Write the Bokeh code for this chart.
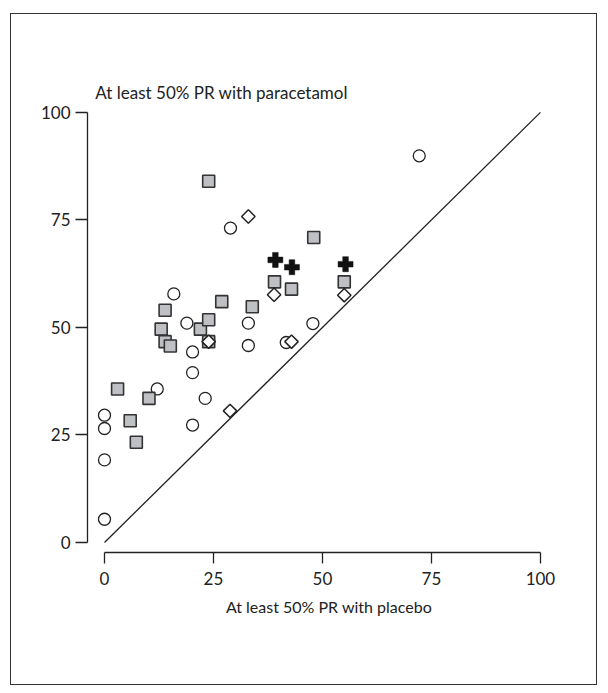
from bokeh.plotting import figure
from bokeh.layouts import column
from bokeh.models import Range1d, FixedTicker, Label
from bokeh.embed import file_html
from bokeh.resources import INLINE
import math

# --- data ---
circle_x = [0, 0, 0, 0, 12.1, 15.9, 18.9, 20.2, 20.2, 20.2, 23.1, 28.9, 33.0, 33.0, 41.7, 47.8, 72.2]
circle_y = [5.4, 19.2, 26.5, 29.6, 35.7, 57.8, 51.0, 27.3, 39.5, 44.3, 33.5, 73.1, 51.0, 45.8, 46.5, 50.9, 89.9]

square_x = [3.0, 5.9, 7.3, 10.2, 13.0, 13.9, 13.9, 15.1, 22.0, 23.9, 23.9, 23.9, 26.9, 33.9, 39.0, 42.9, 48.0, 55.0]
square_y = [35.7, 28.3, 23.3, 33.5, 49.6, 54.0, 46.7, 45.7, 49.6, 51.8, 46.7, 84.0, 56.0, 54.8, 60.6, 58.9, 70.9, 60.6]

diamond_x = [23.9, 28.8, 33.0, 38.9, 42.9, 55.0]
diamond_y = [46.7, 30.6, 75.8, 57.6, 46.7, 57.5]

plus_x = [39.2, 43.0, 55.3]
plus_y = [65.7, 64.0, 64.7]

line_x = [0, 100]
line_y = [0, 100]

tick_values = [0, 25, 50, 75, 100]
x_label = "At least 50% PR with placebo"
y_title = "At least 50% PR with paracetamol"

FONT = "Lato"
INK = "#222222"

p = figure(width=585, height=670, output_backend="svg", toolbar_location=None,
           x_range=Range1d(-3.9, 106.9), y_range=Range1d(-2.33, 112.3))
p.min_border_left = 76
p.min_border_right = 26
p.min_border_top = 45
p.min_border_bottom = 132
p.outline_line_color = None
p.background_fill_color = "white"
p.border_fill_color = "white"
p.xgrid.visible = False
p.ygrid.visible = False

for ax, out, stand in ((p.xaxis[0], 11, 8), (p.yaxis[0], 12, 5)):
    ax.ticker = FixedTicker(ticks=tick_values)
    ax.bounds = (0, 100)
    ax.axis_line_color = INK
    ax.axis_line_width = 1.3
    ax.major_tick_line_color = INK
    ax.major_tick_line_width = 1.3
    ax.major_tick_in = 0
    ax.major_tick_out = out
    ax.minor_tick_line_color = None
    ax.major_label_text_font = FONT
    ax.major_label_text_font_size = "17px"
    ax.major_label_text_color = INK
    ax.major_label_standoff = stand

p.xaxis[0].axis_label = x_label
p.xaxis[0].axis_label_text_font = FONT
p.xaxis[0].axis_label_text_font_size = "16px"
p.xaxis[0].axis_label_text_font_style = "normal"
p.xaxis[0].axis_label_text_color = INK
p.xaxis[0].axis_label_standoff = 9

p.line(line_x, line_y, line_color=INK, line_width=1.3)

p.scatter(circle_x, circle_y, marker="circle", size=12, fill_color="white",
          line_color=INK, line_width=1.3)
p.scatter(square_x, square_y, marker="square", size=12, fill_color="#bfc0c4",
          line_color="#333333", line_width=1.6)
p.scatter(diamond_x, diamond_y, marker="square", angle=math.pi / 4, size=9.5,
          fill_color="white", line_color=INK, line_width=1.5)
p.scatter(plus_x, plus_y, marker="plus", size=15, fill_color="#111111",
          line_color="#111111", line_width=0.5)

p.add_layout(Label(x=-2.1, y=104.7, text=y_title, text_font=FONT,
                   text_font_size="17px", text_color=INK, text_baseline="middle"))

root = column(p, styles={"border": "1.5px solid #333333",
                         "margin-left": "10px", "margin-top": "13px"})

open("out.html", "w").write(file_html(root, INLINE))
